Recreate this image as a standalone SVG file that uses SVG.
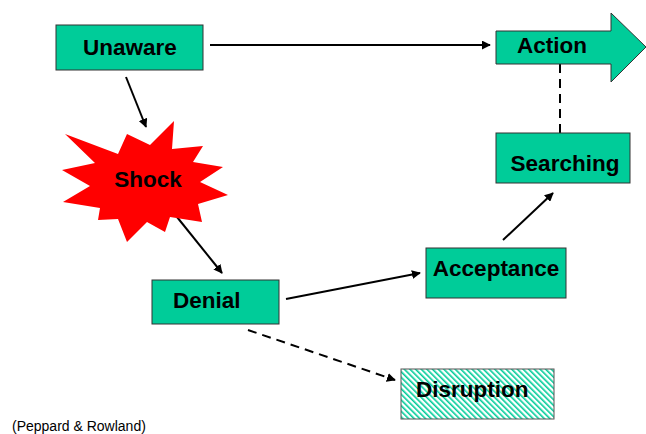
<svg xmlns="http://www.w3.org/2000/svg" width="646" height="434" viewBox="0 0 646 434">
  <defs>
    <marker id="arrow" viewBox="0 0 10 10" refX="9" refY="5" markerWidth="9" markerHeight="9" markerUnits="userSpaceOnUse" orient="auto">
      <path d="M0,0 L10,5 L0,10 z" fill="#000"/>
    </marker>
    <pattern id="hatch" width="4" height="4" patternUnits="userSpaceOnUse" patternTransform="rotate(-45)">
      <rect width="4" height="4" fill="#fff"/>
      <rect width="1.6" height="4" fill="#00CC99"/>
    </pattern>
    <style>
      .box { fill: #00CC99; stroke: #333; stroke-width: 1; }
      .label { font-family: "Liberation Sans", Arial, sans-serif; font-weight: bold; font-size: 22.5px; fill: #000; }
      .link { stroke: #000; stroke-width: 2; fill: none; }
      .dash { stroke-dasharray: 9 6; }
    </style>
  </defs>

  <g id="connectors">
    <line class="link" x1="210" y1="45" x2="490" y2="45" marker-end="url(#arrow)"/>
    <line class="link" x1="126" y1="77" x2="146" y2="127" marker-end="url(#arrow)"/>
    <line class="link" x1="177" y1="217" x2="222" y2="273" marker-end="url(#arrow)"/>
    <line class="link" x1="286" y1="299" x2="420" y2="273" marker-end="url(#arrow)"/>
    <line class="link" x1="503" y1="240" x2="553" y2="193" marker-end="url(#arrow)"/>
    <line class="link dash" x1="248" y1="330" x2="395" y2="380" marker-end="url(#arrow)"/>
    <line class="link dash" x1="560" y1="64" x2="560" y2="133"/>
  </g>

  <g id="unaware">
    <rect class="box" x="56" y="25" width="147" height="45"/>
    <text class="label" x="130" y="55" text-anchor="middle">Unaware</text>
  </g>

  <g id="shock">
    <polygon fill="#FF0000" points="65,134 118,154 127,134 150,145 174,121 172,149 203,146 193,162 223,167 200,182 228,195 198,204 202,222 170,217 165,232 147,222 127,242 118,219 98,220 100,208 63,202 90,186 62,170 95,163"/>
    <text class="label" x="148" y="187" text-anchor="middle">Shock</text>
  </g>

  <g id="denial">
    <rect class="box" x="152" y="280" width="127" height="44"/>
    <text class="label" x="173" y="308">Denial</text>
  </g>

  <g id="acceptance">
    <rect class="box" x="426" y="248" width="140" height="50"/>
    <text class="label" x="496" y="276" text-anchor="middle">Acceptance</text>
  </g>

  <g id="searching">
    <rect class="box" x="496" y="133" width="134" height="50"/>
    <text class="label" x="565" y="171" text-anchor="middle">Searching</text>
  </g>

  <g id="action">
    <polygon class="box" points="496,31 611,31 611,13 646,47 611,82 611,64 496,64"/>
    <text class="label" x="517" y="53">Action</text>
  </g>

  <g id="disruption">
    <rect x="401" y="369" width="153" height="50" fill="url(#hatch)" stroke="#555" stroke-width="1"/>
    <text class="label" x="416" y="397">Disruption</text>
  </g>

  <text x="12" y="431" font-family="'Liberation Sans', Arial, sans-serif" font-size="14" fill="#000">(Peppard &amp; Rowland)</text>
</svg>
